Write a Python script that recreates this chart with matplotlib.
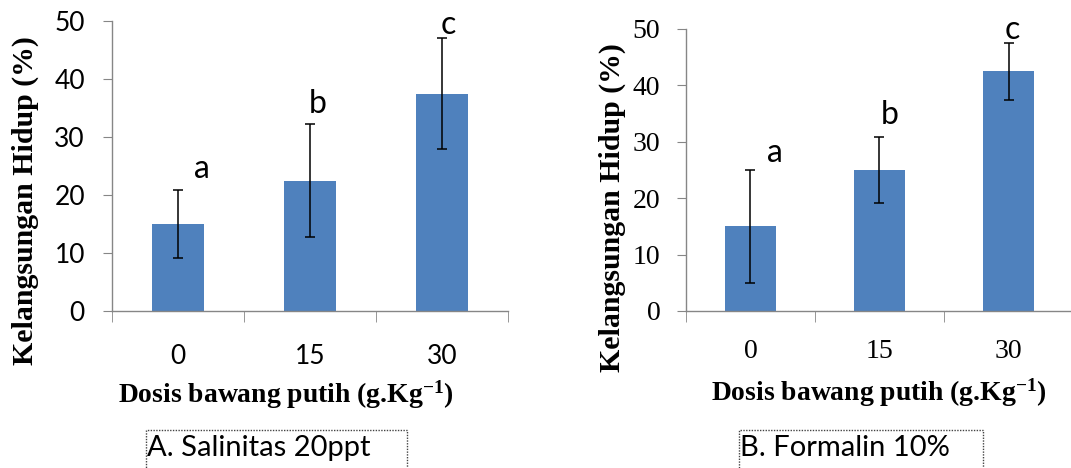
import numpy as np
import matplotlib
matplotlib.use("Agg")
import matplotlib.pyplot as plt
from matplotlib.patches import Rectangle

# data
doses = ["0", "15", "30"]
salin_mean = [15, 22.5, 37.5]
salin_err = [5.8, 9.7, 9.5]
salin_letters = ["a", "b", "c"]
form_mean = [15, 25, 42.5]
form_err = [10, 5.9, 5]
form_letters = ["a", "b", "c"]

W, H = 1071, 468
bar_col = "#4F81BD"
spine_col = "#868686"
sans = "Lato"
serif = "Liberation Serif"

plt.rcParams["mathtext.fontset"] = "custom"
plt.rcParams["mathtext.rm"] = "Liberation Serif:bold"
plt.rcParams["mathtext.bf"] = "Liberation Serif:bold"
plt.rcParams["mathtext.it"] = "Liberation Serif:bold"


def fx(px):
    return px / W


def fy(py):
    return 1 - py / H


fig = plt.figure(figsize=(W / 100, H / 100), dpi=100)
ax1 = fig.add_axes([fx(112), fy(311), fx(396), (311 - 21) / H])
ax2 = fig.add_axes([fx(686), fy(311), fx(387), (311 - 29) / H])


def panel(ax, means, errs, letters, tickfont, tsize, letter_pos, xpad, ypad):
    x = np.arange(len(doses))
    ax.bar(x, means, width=0.39, color=bar_col, zorder=2)
    ax.errorbar(x, means, yerr=errs, fmt="none", ecolor="black",
                elinewidth=1.1, capsize=3.8, capthick=1.1, zorder=3)
    for i, lab in enumerate(letters):
        dx, yy = letter_pos[i]
        ax.text(x[i] + dx, yy, lab, ha="center", va="center",
                fontsize=23, family=sans, clip_on=False)
    ax.set_xlim(-0.5, len(doses) - 0.5)
    ax.set_ylim(0, 50)
    ax.set_yticks([0, 10, 20, 30, 40, 50])
    ax.set_xticks(x)
    ax.set_xticklabels(doses)
    ax.set_xticks(np.arange(len(doses) + 1) - 0.5, minor=True)
    for s in ["top", "right"]:
        ax.spines[s].set_visible(False)
    for s in ["left", "bottom"]:
        ax.spines[s].set_color(spine_col)
        ax.spines[s].set_linewidth(1.0)
    ax.tick_params(axis="x", which="major", length=0, pad=xpad)
    ax.tick_params(axis="x", which="minor", length=8, color=spine_col, direction="out")
    ax.tick_params(axis="y", length=6.5, color=spine_col, direction="out", pad=ypad)
    for t in ax.get_xticklabels() + ax.get_yticklabels():
        t.set_fontfamily(tickfont)
        t.set_fontsize(tsize)


panel(ax1, salin_mean, salin_err, salin_letters, sans, 19,
      [(0.18, 24.5), (0.06, 35.7), (0.05, 49.3)], 24, 13)
panel(ax2, form_mean, form_err, form_letters, serif, 20,
      [(0.19, 28), (0.08, 34.8), (0.03, 49.8)], 20, 12)

# axis titles
ylab_kw = dict(family=serif, fontweight="bold", fontsize=21.5)
xlab_kw = dict(family=serif, fontweight="bold", fontsize=19.9)
fig.text(fx(25), fy(201), "Kelangsungan Hidup (%)", rotation=90,
         ha="center", va="center", **ylab_kw)
fig.text(fx(612), fy(208), "Kelangsungan Hidup (%)", rotation=90,
         ha="center", va="center", **ylab_kw)
fig.text(fx(286), fy(395), r"Dosis bawang putih (g.Kg$^{-1}$)",
         ha="center", va="center", **xlab_kw)
fig.text(fx(879), fy(393), r"Dosis bawang putih (g.Kg$^{-1}$)",
         ha="center", va="center", **xlab_kw)

# caption boxes
for x0, x1, cap in [(146, 407, "A. Salinitas 20ppt"), (739, 983, "B. Formalin 10%")]:
    fig.patches.append(Rectangle((fx(x0), fy(475)), fx(x1 - x0), (475 - 430) / H,
                                 transform=fig.transFigure, fill=False,
                                 linestyle=(0, (1, 1)), linewidth=1.0, edgecolor="#444444"))
    fig.text(fx(x0 + 1), fy(448), cap, ha="left", va="center",
             family=sans, fontsize=21)

fig.savefig("out.png", dpi=100)
